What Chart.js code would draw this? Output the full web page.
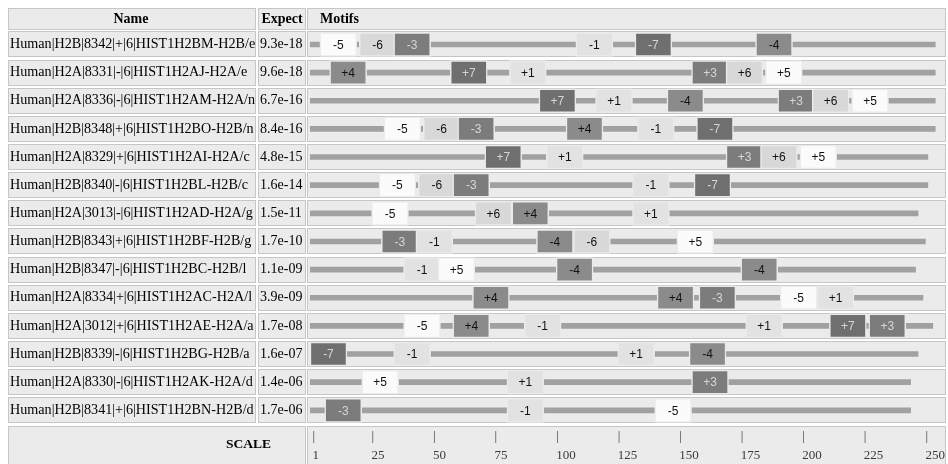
<!DOCTYPE html>
<html>
<head>
<meta charset="utf-8">
<script src="https://cdn.jsdelivr.net/npm/chart.js@4"></script>
<style>
html,body{margin:0;padding:0;background:#fff;}
canvas{display:block;}
</style>
</head>
<body>
<canvas id="c" width="948" height="464"></canvas>
<script>
// ---- data ----
const names = [
  'Human|H2B|8342|+|6|HIST1H2BM-H2B/e',
  'Human|H2A|8331|-|6|HIST1H2AJ-H2A/e',
  'Human|H2A|8336|-|6|HIST1H2AM-H2A/n',
  'Human|H2B|8348|+|6|HIST1H2BO-H2B/n',
  'Human|H2A|8329|+|6|HIST1H2AI-H2A/c',
  'Human|H2B|8340|-|6|HIST1H2BL-H2B/c',
  'Human|H2A|3013|-|6|HIST1H2AD-H2A/g',
  'Human|H2B|8343|+|6|HIST1H2BF-H2B/g',
  'Human|H2B|8347|-|6|HIST1H2BC-H2B/l',
  'Human|H2A|8334|+|6|HIST1H2AC-H2A/l',
  'Human|H2A|3012|+|6|HIST1H2AE-H2A/a',
  'Human|H2B|8339|-|6|HIST1H2BG-H2B/a',
  'Human|H2A|8330|-|6|HIST1H2AK-H2A/d',
  'Human|H2B|8341|+|6|HIST1H2BN-H2B/d'
];
const expectValues = ['9.3e-18','9.6e-18','6.7e-16','8.4e-16','4.8e-15','1.6e-14','1.5e-11',
                      '1.7e-10','1.1e-09','3.9e-09','1.7e-08','1.6e-07','1.4e-06','1.7e-06'];
const seqLengths = [254, 254, 254, 254, 251, 251, 247, 250, 246, 249, 253, 247, 244, 244];
const motifSites = [
  ['-5','-6','-3','-1','-7','-4'],
  ['+4','+7','+1','+3','+6','+5'],
  ['+7','+1','-4','+3','+6','+5'],
  ['-5','-6','-3','+4','-1','-7'],
  ['+7','+1','+3','+6','+5'],
  ['-5','-6','-3','-1','-7'],
  ['-5','+6','+4','+1'],
  ['-3','-1','-4','-6','+5'],
  ['-1','+5','-4','-4'],
  ['+4','+4','-3','-5','+1'],
  ['-5','+4','-1','+1','+7','+3'],
  ['-7','-1','+1','-4'],
  ['+5','+1','+3'],
  ['-3','-1','-5']
];
const motifStarts = [
  [4, 20, 34, 108, 132, 181],
  [8, 57, 81, 155, 169, 185],
  [93, 116, 145, 190, 204, 220],
  [30, 46, 60, 104, 133, 157],
  [71, 96, 169, 183, 199],
  [28, 44, 58, 131, 156],
  [25, 67, 82, 131],
  [29, 43, 92, 107, 149],
  [38, 52, 100, 175],
  [66, 141, 158, 191, 206],
  [38, 58, 87, 177, 211, 227],
  [0, 34, 125, 154],
  [21, 80, 155],
  [6, 80, 140]
];
const motifWidth = 15;
const scaleTicks = [1, 25, 50, 75, 100, 125, 150, 175, 200, 225, 250];

// ---- styles ----
const motifFill = {'1':'#e2e2e2','3':'#7c7c7c','4':'#8b8b8b','5':'#fbfbfb','6':'#d8d8d8','7':'#6f6f6f'};
const motifText = {'1':'#111','3':'#d6d6d6','4':'#111','5':'#111','6':'#111','7':'#d6d6d6'};
const cellFill = '#ebebeb';
const SERIF = '"Liberation Serif","Times New Roman","DejaVu Serif",serif';
const SANS = '"Liberation Sans","DejaVu Sans",sans-serif';

// build library data from the arrays
const motifPoints = [];
const motifPointLabels = [];
names.forEach((n, i) => {
  motifStarts[i].forEach((s, j) => {
    motifPoints.push({x: [s, s + motifWidth], y: n});
    motifPointLabels.push(motifSites[i][j]);
  });
});

const tablePlugin = {
  id: 'tableCells',
  beforeDraw(chart) {
    const ctx = chart.ctx;
    const ys = chart.scales.y;
    ctx.save();
    ctx.fillStyle = '#ffffff';
    ctx.fillRect(0, 0, chart.width, chart.height);
    const cell = (x0, y0, x1, y1) => {
      ctx.fillStyle = cellFill;
      ctx.fillRect(x0, y0, x1 - x0, y1 - y0);
      ctx.strokeStyle = '#c6c6c6';
      ctx.lineWidth = 1;
      ctx.strokeRect(x0 + 0.5, y0 + 0.5, x1 - x0 - 1, y1 - y0 - 1);
    };
    const cols = [[8, 256], [258, 306], [307, 946]];
    // header
    cols.forEach(c => cell(c[0], 8, c[1], 30));
    // rows
    names.forEach((n, i) => {
      const cy = ys.getPixelForValue(i);
      cols.forEach(c => cell(c[0], Math.round(cy - 13), c[1], Math.round(cy + 13)));
    });
    // scale row
    cell(8, 426, 306, 470);
    cell(307, 426, 946, 470);
    ctx.restore();
  },
  afterDraw(chart) {
    const ctx = chart.ctx;
    ctx.save();
    ctx.fillStyle = '#000';
    ctx.textBaseline = 'middle';
    ctx.font = 'bold 14px ' + SERIF;
    ctx.textAlign = 'center';
    ctx.fillText('Name', 131, 19.5);
    ctx.fillText('Expect', 282, 19.5);
    ctx.textAlign = 'left';
    ctx.fillText('Motifs', 320, 19.5);
    ctx.font = 'bold 13.5px ' + SERIF;
    ctx.textAlign = 'center';
    ctx.fillText('SCALE', 248.5, 445);
    ctx.restore();
  }
};

const motifLabelPlugin = {
  id: 'motifLabels',
  afterDatasetsDraw(chart) {
    const ctx = chart.ctx;
    const meta = chart.getDatasetMeta(1);
    ctx.save();
    ctx.font = '12px ' + SANS;
    ctx.textAlign = 'center';
    ctx.textBaseline = 'middle';
    meta.data.forEach((el, k) => {
      const lab = motifPointLabels[k];
      ctx.fillStyle = motifText[lab.slice(1)];
      ctx.fillText(lab, (el.x + el.base) / 2, el.y + 1);
    });
    ctx.restore();
  }
};

new Chart(document.getElementById('c'), {
  type: 'bar',
  data: {
    labels: names,
    datasets: [
      {
        label: 'Sequence',
        data: seqLengths.map(L => [0, L]),
        backgroundColor: '#a1a1a1',
        borderWidth: 0,
        barThickness: 5,
        grouped: false,
        order: 2
      },
      {
        label: 'Motifs',
        data: motifPoints,
        backgroundColor: motifPointLabels.map(l => motifFill[l.slice(1)]),
        borderColor: cellFill,
        borderWidth: 1.5,
        borderSkipped: false,
        barThickness: 24,
        grouped: false,
        order: 1
      }
    ]
  },
  options: {
    indexAxis: 'y',
    responsive: false,
    animation: false,
    devicePixelRatio: 1,
    layout: {padding: {left: 10, top: 30.4, right: 4, bottom: 0}},
    plugins: {legend: {display: false}, tooltip: {enabled: false}, title: {display: false}},
    scales: {
      x: {
        type: 'linear',
        position: 'bottom',
        min: 0,
        max: 256,
        grid: {display: false, drawTicks: false},
        border: {display: false},
        afterBuildTicks: s => { s.ticks = scaleTicks.map(v => ({value: v})); },
        afterFit: s => { s.height = 39.6; },
        ticks: {
          autoSkip: false,
          maxRotation: 0,
          align: 'start',
          padding: 3,
          color: '#3a3a3a',
          font: {family: SERIF, size: 13, lineHeight: 1.45},
          callback: v => ['|', String(v)]
        }
      },
      y: {
        type: 'category',
        position: 'left',
        weight: 2,
        offset: true,
        grid: {display: false, drawTicks: false},
        border: {display: false},
        afterFit: s => { s.width = 250; },
        ticks: {
          crossAlign: 'far',
          padding: 0,
          color: '#000',
          font: {family: SERIF, size: 14.15}
        }
      },
      y2: {
        type: 'category',
        axis: 'y',
        position: 'left',
        weight: 1,
        offset: true,
        labels: expectValues,
        grid: {display: false, drawTicks: false},
        border: {display: false},
        afterFit: s => { s.width = 50; },
        ticks: {
          crossAlign: 'far',
          padding: 0,
          color: '#000',
          font: {family: SERIF, size: 14}
        }
      }
    }
  },
  plugins: [tablePlugin, motifLabelPlugin]
});
</script>
</body>
</html>
